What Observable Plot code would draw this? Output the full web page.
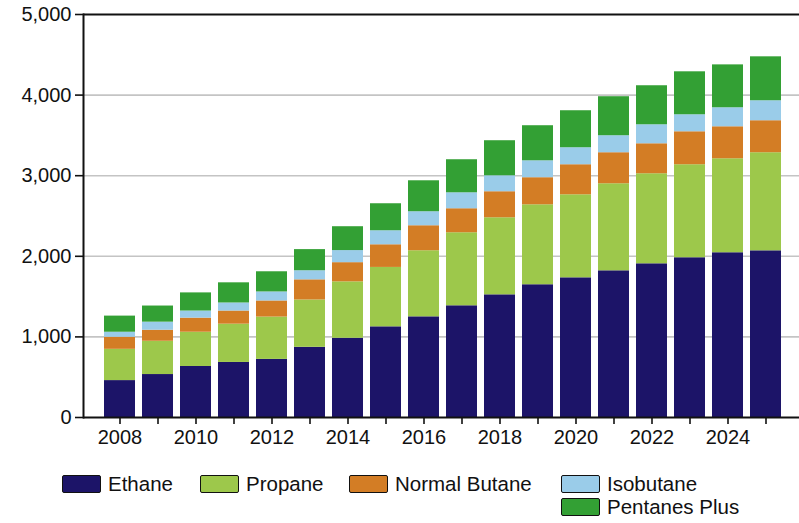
<!DOCTYPE html>
<html>
<head>
<meta charset="utf-8">
<script src="https://cdn.jsdelivr.net/npm/d3@7"></script>
<script src="https://cdn.jsdelivr.net/npm/@observablehq/plot@0.6"></script>
<style>
  body { margin: 0; background: #fff; font-family: "Liberation Sans", Arial, sans-serif; }
  #legend { display: grid; grid-template-columns: 138px 149px 212px auto; row-gap: 4px;
            margin-left: 62px; margin-top: 19px; font-size: 20.5px; color: #111; }
  .item { display: flex; align-items: center; height: 19px; }
  .sw { width: 37px; height: 16px; border: 1.5px solid #111; border-radius: 2px; margin-right: 7px; box-sizing: content-box; }
</style>
</head>
<body>
<div id="chart"></div>
<div id="legend"></div>
<script>
const years = [2008,2009,2010,2011,2012,2013,2014,2015,2016,2017,2018,2019,2020,2021,2022,2023,2024,2025];
const series = ["Ethane", "Propane", "Normal Butane", "Isobutane", "Pentanes Plus"];
const colors = ["#1c1468", "#9dc84b", "#d37d25", "#9acce9", "#33a034"];
const ethane   = [458, 533, 633, 683, 721, 871, 983, 1125, 1249, 1386, 1522, 1647, 1733, 1820, 1907, 1982, 2044, 2068];
const propane  = [388, 413, 425, 475, 525, 587, 700, 737, 820, 906, 956, 992, 1030, 1080, 1117, 1154, 1166, 1217];
const nbutane  = [150, 137, 175, 163, 200, 250, 238, 281, 310, 298, 323, 336, 373, 385, 372, 409, 397, 397];
const isobutane= [62, 100, 88, 100, 112, 113, 150, 174, 174, 198, 198, 210, 211, 211, 236, 211, 236, 248];
const pentanes = [200, 200, 225, 250, 250, 262, 296, 335, 384, 410, 435, 435, 459, 484, 484, 533, 532, 545];
const yTicks = [0, 1000, 2000, 3000, 4000, 5000];

const valuesBySeries = [ethane, propane, nbutane, isobutane, pentanes];
const data = [];
series.forEach((s, si) => years.forEach((yr, i) => data.push({year: yr, series: s, value: valuesBySeries[si][i]})));

const chart = Plot.plot({
  width: 799,
  height: 455,
  marginTop: 14,
  marginLeft: 83,
  marginRight: 0,
  marginBottom: 38,
  style: {fontFamily: "'Liberation Sans', Arial, sans-serif", fontSize: "20px", color: "#111", background: "#fff"},
  x: {domain: years, paddingInner: 0.18, paddingOuter: 0.51, align: 0.54},
  y: {domain: [0, 5000]},
  color: {domain: series, range: colors},
  marks: [
    Plot.gridY(yTicks.filter(d => d > 0 && d < 5000), {stroke: "#c4c4c4", strokeOpacity: 1, strokeWidth: 1.6}),
    Plot.barY(data, {x: "year", y: "value", fill: "series", order: series}),
    Plot.axisY({ticks: yTicks, tickSize: 8, tickPadding: 4, tickFormat: d3.format(","), label: null, strokeWidth: 1.6}),
    Plot.axisX({ticks: years, tickSize: 7, tickPadding: 5, tickFormat: d => d % 2 === 0 ? String(d) : "", label: null, strokeWidth: 1.6}),
    Plot.ruleY([5000], {stroke: "#111", strokeWidth: 2}),
    Plot.ruleY([0], {stroke: "#111", strokeWidth: 2}),
    Plot.frame({anchor: "left", stroke: "#111", strokeWidth: 2})
  ]
});
document.getElementById("chart").appendChild(chart);

const legend = document.getElementById("legend");
series.forEach((s, i) => {
  const item = document.createElement("div");
  item.className = "item";
  if (i === 4) { item.style.gridColumn = "4"; item.style.gridRow = "2"; }
  const sw = document.createElement("span");
  sw.className = "sw";
  sw.style.background = colors[i];
  item.appendChild(sw);
  item.appendChild(document.createTextNode(s));
  legend.appendChild(item);
});
</script>
</body>
</html>
